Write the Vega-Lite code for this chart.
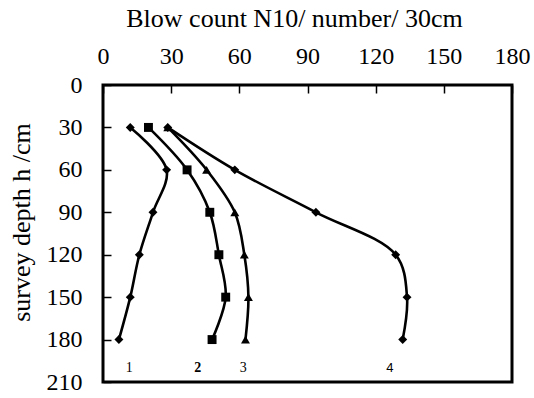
{
  "$schema": "https://vega.github.io/schema/vega-lite/v6.json",
  "width": 409,
  "height": 297,
  "autosize": "none",
  "padding": {"left": 103, "top": 85, "right": 22, "bottom": 16},
  "background": "white",
  "config": {
    "view": {"stroke": "black", "strokeWidth": 3},
    "font": "Liberation Serif"
  },
  "datasets": {
    "curves": [
      {"series": "1", "depth": 30, "count": 12},
      {"series": "1", "depth": 60, "count": 28},
      {"series": "1", "depth": 90, "count": 22},
      {"series": "1", "depth": 120, "count": 16},
      {"series": "1", "depth": 150, "count": 12},
      {"series": "1", "depth": 180, "count": 7},
      {"series": "2", "depth": 30, "count": 20},
      {"series": "2", "depth": 60, "count": 37},
      {"series": "2", "depth": 90, "count": 47},
      {"series": "2", "depth": 120, "count": 51},
      {"series": "2", "depth": 150, "count": 54},
      {"series": "2", "depth": 180, "count": 48},
      {"series": "3", "depth": 30, "count": 28.5},
      {"series": "3", "depth": 60, "count": 45.6},
      {"series": "3", "depth": 90, "count": 58},
      {"series": "3", "depth": 120, "count": 62.2},
      {"series": "3", "depth": 150, "count": 64},
      {"series": "3", "depth": 180, "count": 62.7},
      {"series": "4", "depth": 30, "count": 28.5},
      {"series": "4", "depth": 60, "count": 58},
      {"series": "4", "depth": 90, "count": 93.7},
      {"series": "4", "depth": 120, "count": 128.8},
      {"series": "4", "depth": 150, "count": 133.8},
      {"series": "4", "depth": 180, "count": 131.9}
    ],
    "labels": [
      {"label": "1", "depth": 200, "count": 11.6},
      {"label": "2", "depth": 200, "count": 41.7},
      {"label": "3", "depth": 200, "count": 61.7},
      {"label": "4", "depth": 200, "count": 126.3}
    ]
  },
  "encoding": {
    "x": {
      "field": "count",
      "type": "quantitative",
      "scale": {"domain": [0, 180], "nice": false, "zero": false},
      "axis": {
        "orient": "top",
        "offset": -8,
        "title": "Blow count N10/ number/ 30cm",
        "values": [0, 30, 60, 90, 120, 150, 180],
        "grid": false,
        "domain": false,
        "ticks": true,
        "tickSize": 8,
        "tickWidth": 1.5,
        "tickColor": "black",
        "labelFont": "Liberation Serif",
        "labelFontSize": 24,
        "labelColor": "black",
        "labelPadding": 17,
        "labelFlush": false,
        "labelOverlap": false,
        "titleFont": "Liberation Serif",
        "titleFontSize": 26,
        "titleFontWeight": "normal",
        "titleColor": "black",
        "titlePadding": 13,
        "titleX": 191
      }
    },
    "y": {
      "field": "depth",
      "type": "quantitative",
      "scale": {"domain": [0, 210], "nice": false, "reverse": true},
      "axis": {
        "offset": -8,
        "title": "survey depth h /cm",
        "values": [0, 30, 60, 90, 120, 150, 180, 210],
        "grid": false,
        "domain": false,
        "ticks": true,
        "tickSize": 8,
        "tickWidth": 1.5,
        "tickColor": "black",
        "labelFont": "Liberation Serif",
        "labelFontSize": 24,
        "labelColor": "black",
        "labelPadding": 21,
        "labelFlush": false,
        "labelOverlap": false,
        "titleFont": "Liberation Serif",
        "titleFontSize": 26,
        "titleFontWeight": "normal",
        "titleColor": "black",
        "titlePadding": 12,
        "titleY": 137
      }
    }
  },
  "layer": [
    {
      "data": {"name": "curves"},
      "mark": {"type": "line", "interpolate": "catmull-rom", "color": "black", "strokeWidth": 2.6},
      "encoding": {
        "detail": {"field": "series"},
        "order": {"field": "depth", "type": "quantitative"}
      }
    },
    {
      "data": {"name": "curves"},
      "mark": {"type": "point", "filled": true, "color": "black", "opacity": 1, "size": 80},
      "encoding": {
        "shape": {
          "field": "series",
          "type": "nominal",
          "scale": {"domain": ["1", "2", "3", "4"], "range": ["diamond", "square", "triangle-up", "diamond"]},
          "legend": null
        }
      }
    },
    {
      "data": {"name": "labels"},
      "transform": [{"filter": "datum.label == '1' || datum.label == '3'"}],
      "mark": {"type": "text", "font": "Liberation Serif", "fontSize": 14, "color": "black", "baseline": "middle", "align": "center"},
      "encoding": {"text": {"field": "label"}}
    },
    {
      "data": {"name": "labels"},
      "transform": [{"filter": "datum.label == '2'"}],
      "mark": {"type": "text", "font": "Liberation Serif", "fontSize": 14, "fontWeight": "bold", "color": "black", "baseline": "middle", "align": "center"},
      "encoding": {"text": {"field": "label"}}
    },
    {
      "data": {"name": "labels"},
      "transform": [{"filter": "datum.label == '4'"}],
      "mark": {"type": "text", "font": "Liberation Sans", "fontSize": 13, "color": "black", "baseline": "middle", "align": "center"},
      "encoding": {"text": {"field": "label"}}
    }
  ]
}
